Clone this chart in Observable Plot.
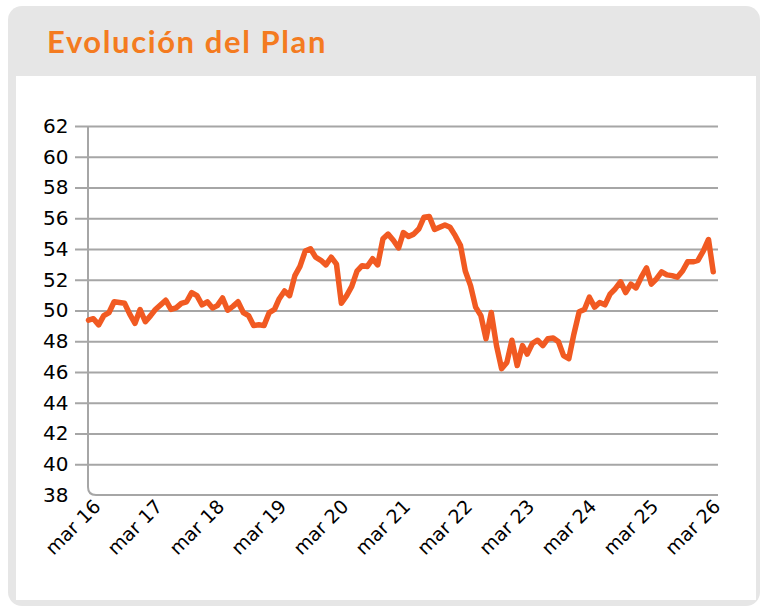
<!DOCTYPE html>
<html><head><meta charset="utf-8">
<script src="https://cdn.jsdelivr.net/npm/d3@7"></script>
<script src="https://cdn.jsdelivr.net/npm/@observablehq/plot@0.6"></script>
<style>
html,body{margin:0;padding:0;background:#fff;width:768px;height:615px;overflow:hidden}
#card{position:absolute;left:8px;top:6px;width:752px;height:600px;background:#e6e6e6;border-radius:14px}
#inner{position:absolute;left:16px;top:76px;width:740px;height:524px;background:#fff}
#title{position:absolute;left:47px;top:22px;font-family:Lato;font-weight:bold;font-size:31px;letter-spacing:1.6px;color:#f47b20;white-space:nowrap}
#chart{position:absolute;left:0;top:0}
</style></head><body>
<div id="card"></div><div id="inner"></div>
<div id="title">Evolución del Plan</div>
<div id="chart"></div>
<script>
// monthly series, first month Feb 2016
const firstMonth = "2016-02-01";
const values = [
  49.4,49.5,49.1,49.7,49.9,50.6,50.55,50.5,49.8,49.2,
  50.1,49.3,49.7,50.1,50.4,50.7,50.1,50.2,50.5,50.6,
  51.2,51.0,50.4,50.6,50.2,50.35,50.85,50.05,50.3,50.6,
  49.9,49.7,49.05,49.1,49.05,49.9,50.1,50.8,51.3,51.0,
  52.3,52.9,53.9,54.05,53.5,53.3,53.0,53.5,53.05,50.5,
  51.0,51.6,52.6,52.95,52.9,53.4,53.0,54.7,55.0,54.6,
  54.1,55.1,54.85,55.0,55.35,56.1,56.15,55.3,55.45,55.6,
  55.45,54.9,54.25,52.6,51.65,50.25,49.7,48.2,49.9,47.75,
  46.25,46.65,48.1,46.45,47.75,47.2,47.9,48.1,47.75,48.2,
  48.25,48.0,47.1,46.9,48.5,49.95,50.1,50.9,50.25,50.55,
  50.4,51.1,51.45,51.9,51.2,51.75,51.5,52.2,52.8,51.75,
  52.1,52.55,52.35,52.3,52.2,52.6,53.2,53.2,53.3,53.9,
  54.65,52.55
];
const yTicks = [38,40,42,44,46,48,50,52,54,56,58,60,62];
const gridTicks = [40,42,44,46,48,50,52,54,56,58,60,62];
const tickYears = [2016,2017,2018,2019,2020,2021,2022,2023,2024,2025,2026];
const tickMonthName = "mar";

const start = new Date(firstMonth);
const data = values.map((v, i) => ({date: d3.utcMonth.offset(start, i), value: v}));
const xTicks = tickYears.map(y => new Date(Date.UTC(y, 2, 1)));
const xDomain = [start, d3.utcMonth.offset(start, values.length)];

const axisColor = "#a6a6a6";

function cornerAxis() {
  return (index, scales, values, dims) => {
    const x0 = dims.marginLeft, x1 = dims.width - dims.marginRight;
    const yTop = scales.y(yTicks[yTicks.length - 1]), yBot = scales.y(yTicks[0]);
    const r = 8;
    const p = d3.create("svg:path")
      .attr("d", `M${x0},${yTop}V${yBot - r}Q${x0},${yBot} ${x0 + r},${yBot}H${x1}`)
      .attr("fill", "none").attr("stroke", axisColor).attr("stroke-width", 2);
    return p.node();
  };
}

const chart = Plot.plot({
  width: 768,
  height: 615,
  marginLeft: 88,
  marginRight: 50,
  marginTop: 126,
  marginBottom: 120,
  style: {background: "transparent", fontFamily: "DejaVu Sans", color: "#000"},
  x: {type: "utc", domain: xDomain, label: null},
  y: {domain: [yTicks[0], yTicks[yTicks.length - 1]], label: null},
  marks: [
    Plot.ruleY(gridTicks, {stroke: axisColor, strokeWidth: 2, insetLeft: -13, strokeOpacity: 1}),
    cornerAxis(),
    Plot.axisY({ticks: yTicks, tickSize: 0, tickPadding: 20, fontSize: 20, label: null, tickFormat: d => String(d)}),
    Plot.axisX({ticks: xTicks, tickSize: 0, tickPadding: 8, tickRotate: -45, fontSize: 19, dx: 4, label: null,
      tickFormat: d => tickMonthName + " " + String(d.getUTCFullYear()).slice(2)}),
    Plot.line(data, {x: "date", y: "value", stroke: "#f15a22", strokeWidth: 5.5, strokeLinejoin: "round", strokeLinecap: "round"})
  ]
});
document.getElementById("chart").appendChild(chart);
</script>
</body></html>
